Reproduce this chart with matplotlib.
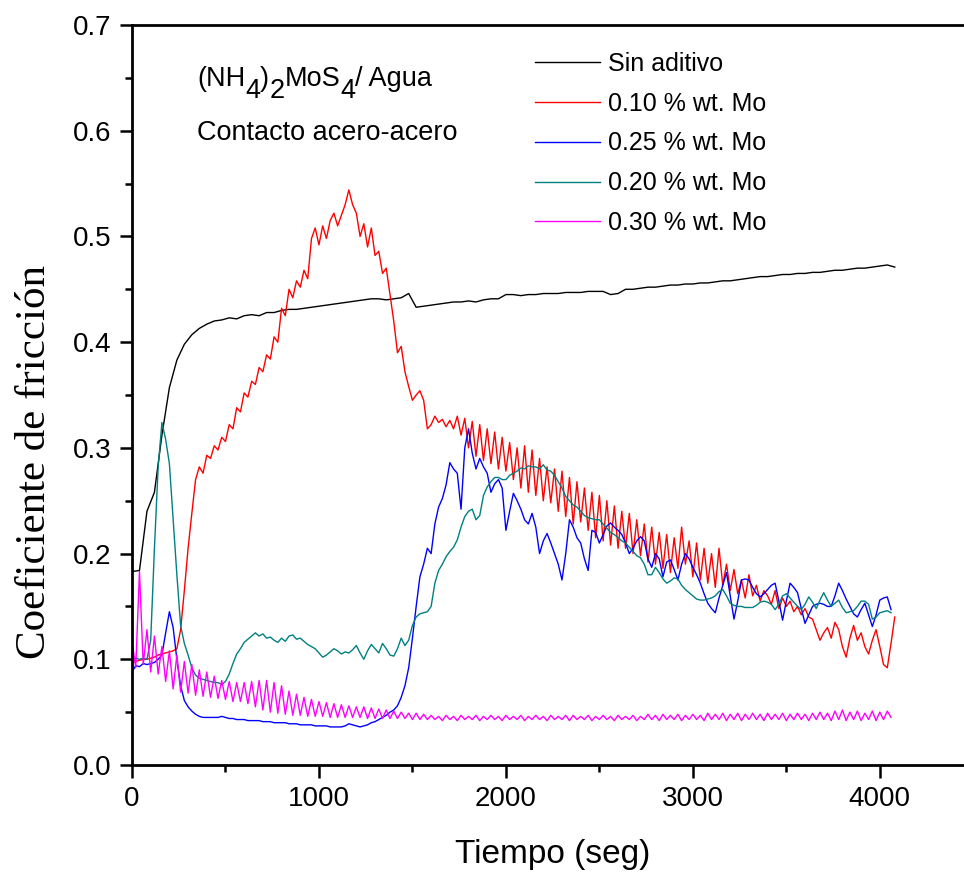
import numpy as np
import matplotlib
matplotlib.use("Agg")
import matplotlib.pyplot as plt

# --------------------------------------------------
# data
# time step of each record (seg)
# --------------------------------------------------
dt_black = 40
dt_other = 20

labels = ["Sin aditivo", "0.10 % wt. Mo", "0.25 % wt. Mo",
          "0.20 % wt. Mo", "0.30 % wt. Mo"]
colors = ["black", "red", "blue", "teal", "magenta"]

# Sin aditivo, every 40 s from 0
cof_black = [
    0.183, 0.184, 0.240, 0.258, 0.312, 0.357, 0.383, 0.398, 0.407, 0.413,
    0.417, 0.420, 0.421, 0.423, 0.422, 0.425, 0.426, 0.425, 0.428, 0.428,
    0.430, 0.431, 0.431, 0.432, 0.433, 0.434, 0.435, 0.436, 0.437, 0.438,
    0.439, 0.440, 0.441, 0.441, 0.440, 0.441, 0.442, 0.446, 0.433, 0.434,
    0.435, 0.436, 0.437, 0.438, 0.438, 0.439, 0.438, 0.440, 0.441, 0.441,
    0.445, 0.445, 0.444, 0.445, 0.445, 0.446, 0.446, 0.446, 0.447, 0.447,
    0.447, 0.448, 0.448, 0.448, 0.445, 0.446, 0.450, 0.450, 0.451, 0.452,
    0.452, 0.453, 0.454, 0.454, 0.455, 0.455, 0.456, 0.456, 0.457, 0.458,
    0.458, 0.459, 0.460, 0.461, 0.462, 0.462, 0.463, 0.464, 0.464, 0.465,
    0.465, 0.466, 0.466, 0.467, 0.468, 0.468, 0.469, 0.470, 0.470, 0.471,
    0.472, 0.473, 0.471,
]

# 0.10 % wt. Mo, every 20 s from 0
cof_010 = [
    0.097, 0.098, 0.099, 0.100, 0.100, 0.101, 0.102, 0.104, 0.105, 0.106,
    0.107, 0.108, 0.110, 0.128, 0.165, 0.205, 0.238, 0.270, 0.282, 0.276,
    0.293, 0.290, 0.302, 0.298, 0.310, 0.306, 0.322, 0.318, 0.338, 0.334,
    0.352, 0.348, 0.363, 0.360, 0.376, 0.372, 0.388, 0.384, 0.405, 0.400,
    0.432, 0.425, 0.450, 0.442, 0.458, 0.452, 0.468, 0.460, 0.498, 0.508,
    0.492, 0.510, 0.498, 0.515, 0.522, 0.510, 0.520, 0.530, 0.544, 0.530,
    0.522, 0.500, 0.512, 0.490, 0.508, 0.482, 0.486, 0.465, 0.470, 0.445,
    0.420, 0.390, 0.396, 0.372, 0.358, 0.345, 0.350, 0.354, 0.345, 0.318,
    0.322, 0.330, 0.324, 0.327, 0.320, 0.326, 0.318, 0.330, 0.312, 0.328,
    0.300, 0.325, 0.292, 0.322, 0.288, 0.318, 0.285, 0.315, 0.280, 0.310,
    0.278, 0.305, 0.270, 0.300, 0.262, 0.302, 0.258, 0.298, 0.255, 0.290,
    0.250, 0.282, 0.248, 0.280, 0.240, 0.278, 0.235, 0.272, 0.228, 0.268,
    0.230, 0.262, 0.222, 0.258, 0.215, 0.255, 0.212, 0.250, 0.208, 0.245,
    0.205, 0.240, 0.205, 0.238, 0.200, 0.232, 0.198, 0.228, 0.192, 0.225,
    0.190, 0.220, 0.186, 0.218, 0.182, 0.215, 0.186, 0.225, 0.190, 0.212,
    0.178, 0.210, 0.175, 0.205, 0.172, 0.200, 0.168, 0.205, 0.170, 0.190,
    0.165, 0.185, 0.162, 0.175, 0.158, 0.180, 0.160, 0.170, 0.155, 0.165,
    0.160, 0.152, 0.165, 0.148, 0.158, 0.150, 0.155, 0.145, 0.150, 0.142,
    0.148, 0.140, 0.138, 0.128, 0.118, 0.125, 0.130, 0.120, 0.135, 0.128,
    0.112, 0.102, 0.120, 0.132, 0.118, 0.125, 0.112, 0.105, 0.118, 0.128,
    0.112, 0.095, 0.092, 0.115, 0.140,
]

# 0.25 % wt. Mo, every 20 s from 0
cof_025 = [
    0.088, 0.094, 0.093, 0.096, 0.095, 0.096, 0.097, 0.100, 0.104, 0.125,
    0.145, 0.130, 0.100, 0.075, 0.061, 0.055, 0.051, 0.048, 0.046, 0.045,
    0.045, 0.045, 0.045, 0.045, 0.046, 0.045, 0.044, 0.044, 0.043, 0.043,
    0.043, 0.042, 0.042, 0.042, 0.042, 0.041, 0.041, 0.041, 0.040, 0.040,
    0.040, 0.040, 0.039, 0.039, 0.039, 0.038, 0.038, 0.038, 0.038, 0.037,
    0.037, 0.037, 0.037, 0.036, 0.036, 0.036, 0.036, 0.037, 0.039, 0.038,
    0.037, 0.036, 0.037, 0.038, 0.040, 0.041, 0.043, 0.045, 0.047, 0.050,
    0.052, 0.056, 0.064, 0.075, 0.092, 0.120, 0.150, 0.178, 0.190, 0.205,
    0.200, 0.228, 0.244, 0.252, 0.265, 0.286, 0.280, 0.276, 0.242, 0.300,
    0.318, 0.295, 0.280, 0.290, 0.282, 0.276, 0.258, 0.266, 0.270, 0.262,
    0.222, 0.240, 0.257, 0.250, 0.242, 0.232, 0.228, 0.238, 0.225, 0.200,
    0.212, 0.219, 0.210, 0.200, 0.190, 0.175, 0.200, 0.232, 0.225, 0.215,
    0.210, 0.195, 0.184, 0.222, 0.220, 0.210, 0.218, 0.226, 0.229, 0.225,
    0.222, 0.218, 0.210, 0.200, 0.205, 0.212, 0.216, 0.212, 0.195, 0.187,
    0.200, 0.195, 0.178, 0.192, 0.194, 0.185, 0.175, 0.190, 0.200, 0.195,
    0.187, 0.180, 0.172, 0.162, 0.153, 0.148, 0.144, 0.158, 0.170, 0.182,
    0.160, 0.138, 0.155, 0.175, 0.176, 0.175, 0.168, 0.162, 0.159, 0.162,
    0.166, 0.170, 0.172, 0.155, 0.137, 0.155, 0.172, 0.168, 0.163, 0.148,
    0.134, 0.142, 0.150, 0.152, 0.153, 0.152, 0.150, 0.150, 0.160, 0.172,
    0.165, 0.157, 0.150, 0.143, 0.140, 0.147, 0.153, 0.142, 0.131, 0.142,
    0.156, 0.158, 0.159, 0.147,
]

# 0.20 % wt. Mo, every 20 s from 0
cof_020 = [
    0.100, 0.101, 0.100, 0.101, 0.100, 0.118, 0.205, 0.282, 0.324, 0.308,
    0.285, 0.232, 0.180, 0.132, 0.115, 0.104, 0.092, 0.085, 0.082, 0.081,
    0.080, 0.079, 0.078, 0.078, 0.076, 0.079, 0.086, 0.096, 0.105, 0.110,
    0.116, 0.119, 0.122, 0.125, 0.122, 0.124, 0.120, 0.121, 0.118, 0.116,
    0.120, 0.117, 0.122, 0.123, 0.119, 0.120, 0.117, 0.114, 0.112, 0.110,
    0.106, 0.102, 0.104, 0.107, 0.110, 0.108, 0.105, 0.107, 0.106, 0.109,
    0.113, 0.106, 0.100, 0.108, 0.114, 0.110, 0.106, 0.115, 0.110, 0.104,
    0.103, 0.110, 0.120, 0.113, 0.118, 0.132, 0.140, 0.143, 0.144, 0.145,
    0.150, 0.172, 0.184, 0.190, 0.197, 0.202, 0.206, 0.213, 0.225, 0.235,
    0.240, 0.242, 0.232, 0.236, 0.255, 0.263, 0.268, 0.272, 0.272, 0.270,
    0.270, 0.274, 0.276, 0.278, 0.281, 0.280, 0.283, 0.282, 0.282, 0.280,
    0.284, 0.279, 0.278, 0.274, 0.268, 0.262, 0.254, 0.250, 0.246, 0.244,
    0.240, 0.236, 0.234, 0.233, 0.232, 0.232, 0.228, 0.224, 0.220, 0.218,
    0.215, 0.212, 0.210, 0.206, 0.202, 0.198, 0.196, 0.190, 0.180, 0.180,
    0.187, 0.182, 0.176, 0.172, 0.174, 0.177, 0.176, 0.170, 0.166, 0.163,
    0.160, 0.157, 0.156, 0.156, 0.157, 0.158, 0.160, 0.164, 0.166, 0.160,
    0.153, 0.151, 0.150, 0.150, 0.149, 0.149, 0.149, 0.151, 0.154, 0.155,
    0.154, 0.152, 0.147, 0.152, 0.160, 0.162, 0.158, 0.154, 0.150, 0.147,
    0.152, 0.159, 0.154, 0.148, 0.156, 0.163, 0.156, 0.150, 0.153, 0.156,
    0.149, 0.144, 0.145, 0.146, 0.150, 0.155, 0.155, 0.152, 0.138, 0.140,
    0.144, 0.145, 0.146, 0.144,
]

# 0.30 % wt. Mo, every 20 s from 0
cof_030 = [
    0.118, 0.092, 0.183, 0.095, 0.128, 0.088, 0.122, 0.086, 0.112, 0.079,
    0.108, 0.072, 0.104, 0.069, 0.098, 0.068, 0.095, 0.066, 0.090, 0.065,
    0.088, 0.064, 0.084, 0.063, 0.080, 0.062, 0.079, 0.060, 0.078, 0.060,
    0.078, 0.058, 0.079, 0.055, 0.080, 0.052, 0.080, 0.050, 0.078, 0.049,
    0.075, 0.048, 0.070, 0.047, 0.067, 0.047, 0.064, 0.046, 0.062, 0.046,
    0.060, 0.046, 0.059, 0.045, 0.058, 0.045, 0.057, 0.045, 0.056, 0.045,
    0.055, 0.045, 0.055, 0.044, 0.054, 0.044, 0.053, 0.044, 0.052, 0.044,
    0.051, 0.044, 0.050, 0.044, 0.049, 0.043, 0.049, 0.043, 0.048, 0.043,
    0.047, 0.043, 0.046, 0.042, 0.047, 0.043, 0.046, 0.042, 0.047, 0.043,
    0.046, 0.043, 0.047, 0.042, 0.046, 0.043, 0.047, 0.043, 0.046, 0.042,
    0.047, 0.043, 0.046, 0.043, 0.047, 0.042, 0.046, 0.043, 0.047, 0.043,
    0.046, 0.042, 0.047, 0.043, 0.046, 0.043, 0.047, 0.042, 0.047, 0.043,
    0.046, 0.043, 0.047, 0.042, 0.046, 0.043, 0.047, 0.043, 0.046, 0.042,
    0.047, 0.043, 0.046, 0.043, 0.047, 0.042, 0.046, 0.043, 0.048, 0.043,
    0.047, 0.042, 0.048, 0.043, 0.047, 0.043, 0.048, 0.042, 0.047, 0.043,
    0.048, 0.043, 0.047, 0.042, 0.049, 0.043, 0.048, 0.043, 0.049, 0.042,
    0.048, 0.043, 0.049, 0.042, 0.048, 0.043, 0.049, 0.043, 0.048, 0.042,
    0.049, 0.043, 0.048, 0.043, 0.049, 0.042, 0.048, 0.043, 0.049, 0.043,
    0.048, 0.042, 0.049, 0.043, 0.050, 0.043, 0.049, 0.042, 0.051, 0.043,
    0.052, 0.042, 0.050, 0.043, 0.051, 0.042, 0.049, 0.043, 0.051, 0.042,
    0.050, 0.043, 0.051, 0.045,
]

# formula pieces of the note: (text, lowered?)
formula_parts = [("(NH", False), ("4", True), (")", False), ("2", True),
                 ("MoS", False), ("4", True), ("/ Agua", False)]

# --------------------------------------------------
# figure
# --------------------------------------------------
plt.rcParams["font.family"] = ["Liberation Sans", "DejaVu Sans"]

fig = plt.figure(figsize=(9.64, 8.76), dpi=100)
ax = fig.add_axes([132 / 964, 111 / 876, 831 / 964, 740 / 876])

series = [cof_black, cof_010, cof_025, cof_020, cof_030]
steps = [dt_black, dt_other, dt_other, dt_other, dt_other]
for y, dt, lab, col in zip(series, steps, labels, colors):
    t = np.arange(len(y)) * dt
    ax.plot(t, y, color=col, linewidth=1.0, label=lab)

ax.set_xlim(0, 4445)
ax.set_ylim(0, 0.7)
ax.set_xticks([0, 1000, 2000, 3000, 4000])
ax.set_xticks([500, 1500, 2500, 3500], minor=True)
ax.set_yticks(np.arange(0, 0.71, 0.1))
ax.set_yticks(np.arange(0.05, 0.7, 0.1), minor=True)
ax.set_yticklabels(["0.0", "0.1", "0.2", "0.3", "0.4", "0.5", "0.6", "0.7"])

ax.spines["right"].set_visible(False)
for s in ["left", "bottom", "top"]:
    ax.spines[s].set_linewidth(2.0)
ax.tick_params(which="major", direction="out", length=9, width=1.8,
               labelsize=20, pad=6, top=False, right=False)
ax.tick_params(which="minor", direction="out", length=5, width=1.8,
               top=False, right=False)

# axis titles
fig.text(35 / 964, 1 - 462 / 876, "Coeficiente de fricción",
         family="Liberation Serif", fontsize=31, rotation=90,
         ha="center", va="center")
fig.text(553 / 964, 1 - 855 / 876, "Tiempo (seg)", fontsize=24,
         ha="center", va="center")

# note with lowered digits, pieces laid out one after another
renderer = fig.canvas.get_renderer()
x_px = 197
for txt, low in formula_parts:
    y_px = 98 if low else 86
    piece = fig.text(x_px / 964, 1 - y_px / 876, txt, fontsize=19.5,
                     ha="left", va="baseline")
    x_px += piece.get_window_extent(renderer).width
fig.text(197 / 964, 1 - 133 / 876, "Contacto acero-acero", fontsize=19.5,
         ha="left", va="center")

ax.legend(loc="upper left", bbox_to_anchor=(535 / 964, 1 - 52 / 876),
          bbox_transform=fig.transFigure, frameon=False, fontsize=18,
          handlelength=2.6, handletextpad=0.3, labelspacing=0.63,
          borderpad=0, borderaxespad=0)

fig.savefig("out.png", dpi=100)
